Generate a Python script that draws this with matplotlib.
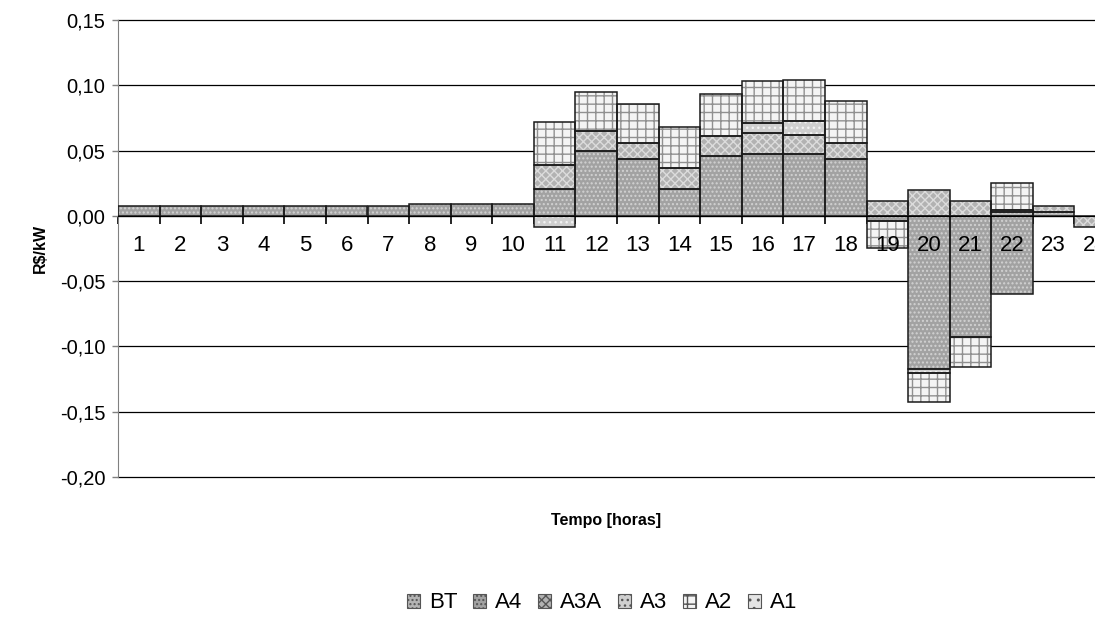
#!/usr/bin/env python3

import matplotlib

matplotlib.use("Agg")
import matplotlib.pyplot as plt
import numpy as np
from matplotlib.patches import Patch
from matplotlib.ticker import FuncFormatter

plt.rcParams["font.family"] = ["Liberation Sans", "DejaVu Sans"]
plt.rcParams["hatch.linewidth"] = 1.0

hours = list(range(1, 25))
series_names = ["BT", "A4", "A3A", "A3", "A2", "A1"]

bt = [0, 0, 0, 0, 0, 0, 0, 0, 0, 0, 0, 0,
      0, 0, 0, 0, 0, 0, 0, 0, 0, 0.0028, 0.003, 0]
a4 = [0.0075, 0.0075, 0.0075, 0.0075, 0.0075, 0.0075, 0.0075, 0.009, 0.009, 0.009, 0.0207, 0.0493,
      0.0439, 0.0207, 0.0462, 0.0475, 0.0475, 0.0439, -0.0038, -0.1175, -0.0927, -0.0597, 0, 0]
a3a = [0, 0, 0, 0, 0, 0, 0, 0, 0, 0, 0.0186, 0.0156,
       0.012, 0.0158, 0.0153, 0.0163, 0.0143, 0.012, 0.0112, 0.0199, 0.011, 0, 0.0044, -0.0087]
a3 = [0, 0, 0, 0, 0, 0, 0, 0, 0, 0, -0.0087, 0,
      0, 0, 0, 0.0072, 0.0112, 0, 0, -0.0025, 0, 0.0018, 0, 0]
a2 = [0, 0, 0, 0, 0, 0, 0, 0, 0, 0, 0.0325, 0.0299,
      0.0301, 0.0312, 0.0322, 0.0322, 0.0314, 0.0317, -0.0212, -0.0228, -0.0233, 0.0207, 0, 0]
a1 = [0] * 24

# face colour, hatch colour, hatch
styles = {
    "BT": ("#b4b4b4", "#e6e6e6", "...."),
    "A4": ("#a2a2a2", "#d2d2d2", "...."),
    "A3A": ("#b2b2b2", "#dcdcdc", "xxxx"),
    "A3": ("#cfcfcf", "#f2f2f2", "..."),
    "A2": ("#f4f4f4", "#909090", "++"),
    "A1": ("#e4e4e4", "#ffffff", ".."),
}


def main():
    fig = plt.figure(figsize=(10.95, 6.24), dpi=100)
    W, H = 1095.0, 624.0
    ax = fig.add_axes([118 / W, 1 - 477 / H, 998 / W, 457 / H])

    data = {"BT": bt, "A4": a4, "A3A": a3a, "A3": a3, "A2": a2, "A1": a1}
    x = np.array(hours)
    pos = np.zeros(24)
    neg = np.zeros(24)
    for name in series_names:
        vals = np.array(data[name], dtype=float)
        bottom = np.where(vals >= 0, pos, neg)
        face, hcol, hatch = styles[name]
        mask = vals != 0
        ax.bar(x[mask], vals[mask], bottom=bottom[mask], width=1.0, color=face,
               edgecolor=hcol, hatch=hatch, linewidth=0, zorder=2)
        ax.bar(x[mask], vals[mask], bottom=bottom[mask], width=1.0, fill=False,
               edgecolor="#1a1a1a", linewidth=1.1, zorder=3)
        pos = np.where(vals >= 0, pos + vals, pos)
        neg = np.where(vals < 0, neg + vals, neg)

    ax.set_xlim(0.5, 24.5)
    ax.set_ylim(-0.20, 0.15)
    ax.set_yticks(np.arange(-0.20, 0.151, 0.05))
    ax.yaxis.set_major_formatter(FuncFormatter(lambda v, p: f"{v:.2f}".replace(".", ",").replace("-0,00", "0,00")))
    ax.yaxis.grid(True, color="#000000", linewidth=0.9, zorder=0)
    ax.set_axisbelow(True)
    for gl in ax.get_ygridlines():
        gl.set_clip_on(False)

    for s in ["top", "right"]:
        ax.spines[s].set_visible(False)
    ax.spines["left"].set_color("#808080")
    ax.spines["bottom"].set_position(("data", 0))
    ax.spines["bottom"].set_color("#000000")
    ax.spines["bottom"].set_zorder(4)

    ax.set_xticks(np.arange(0.5, 25, 1.0))
    ax.set_xticklabels([])
    ax.tick_params(axis="x", which="major", direction="out", length=5.5, width=1.2, color="#000000")
    ax.tick_params(axis="y", direction="out", length=4, width=1, color="#808080", labelsize=14.5, pad=5)

    # category labels sit just under the zero line, above the bars
    for h in hours:
        ax.text(h, -0.0225, str(h), ha="center", va="center", fontsize=16, zorder=6,
                clip_on=False)

    fig.text(606 / W, 1 - 521 / H, "Tempo [horas]", ha="center", va="center",
             fontsize=11.5, fontweight="bold")
    fig.text(40 / W, 1 - 248 / H, "R$/kW", ha="center", va="center", rotation=90,
             fontsize=11.5, fontweight="bold")

    handles = [
        Patch(facecolor=styles[n][0], edgecolor="#555555", hatch=styles[n][2], linewidth=0.8, label=n)
        for n in series_names
    ]
    fig.legend(handles=handles, loc="center", bbox_to_anchor=(602 / W, 1 - 603 / H), ncol=6,
               frameon=False, fontsize=16, handlelength=0.6, handleheight=0.6,
               handletextpad=0.4, columnspacing=0.7, borderpad=0)

    fig.savefig("out.png", dpi=100)


if __name__ == "__main__":
    main()
